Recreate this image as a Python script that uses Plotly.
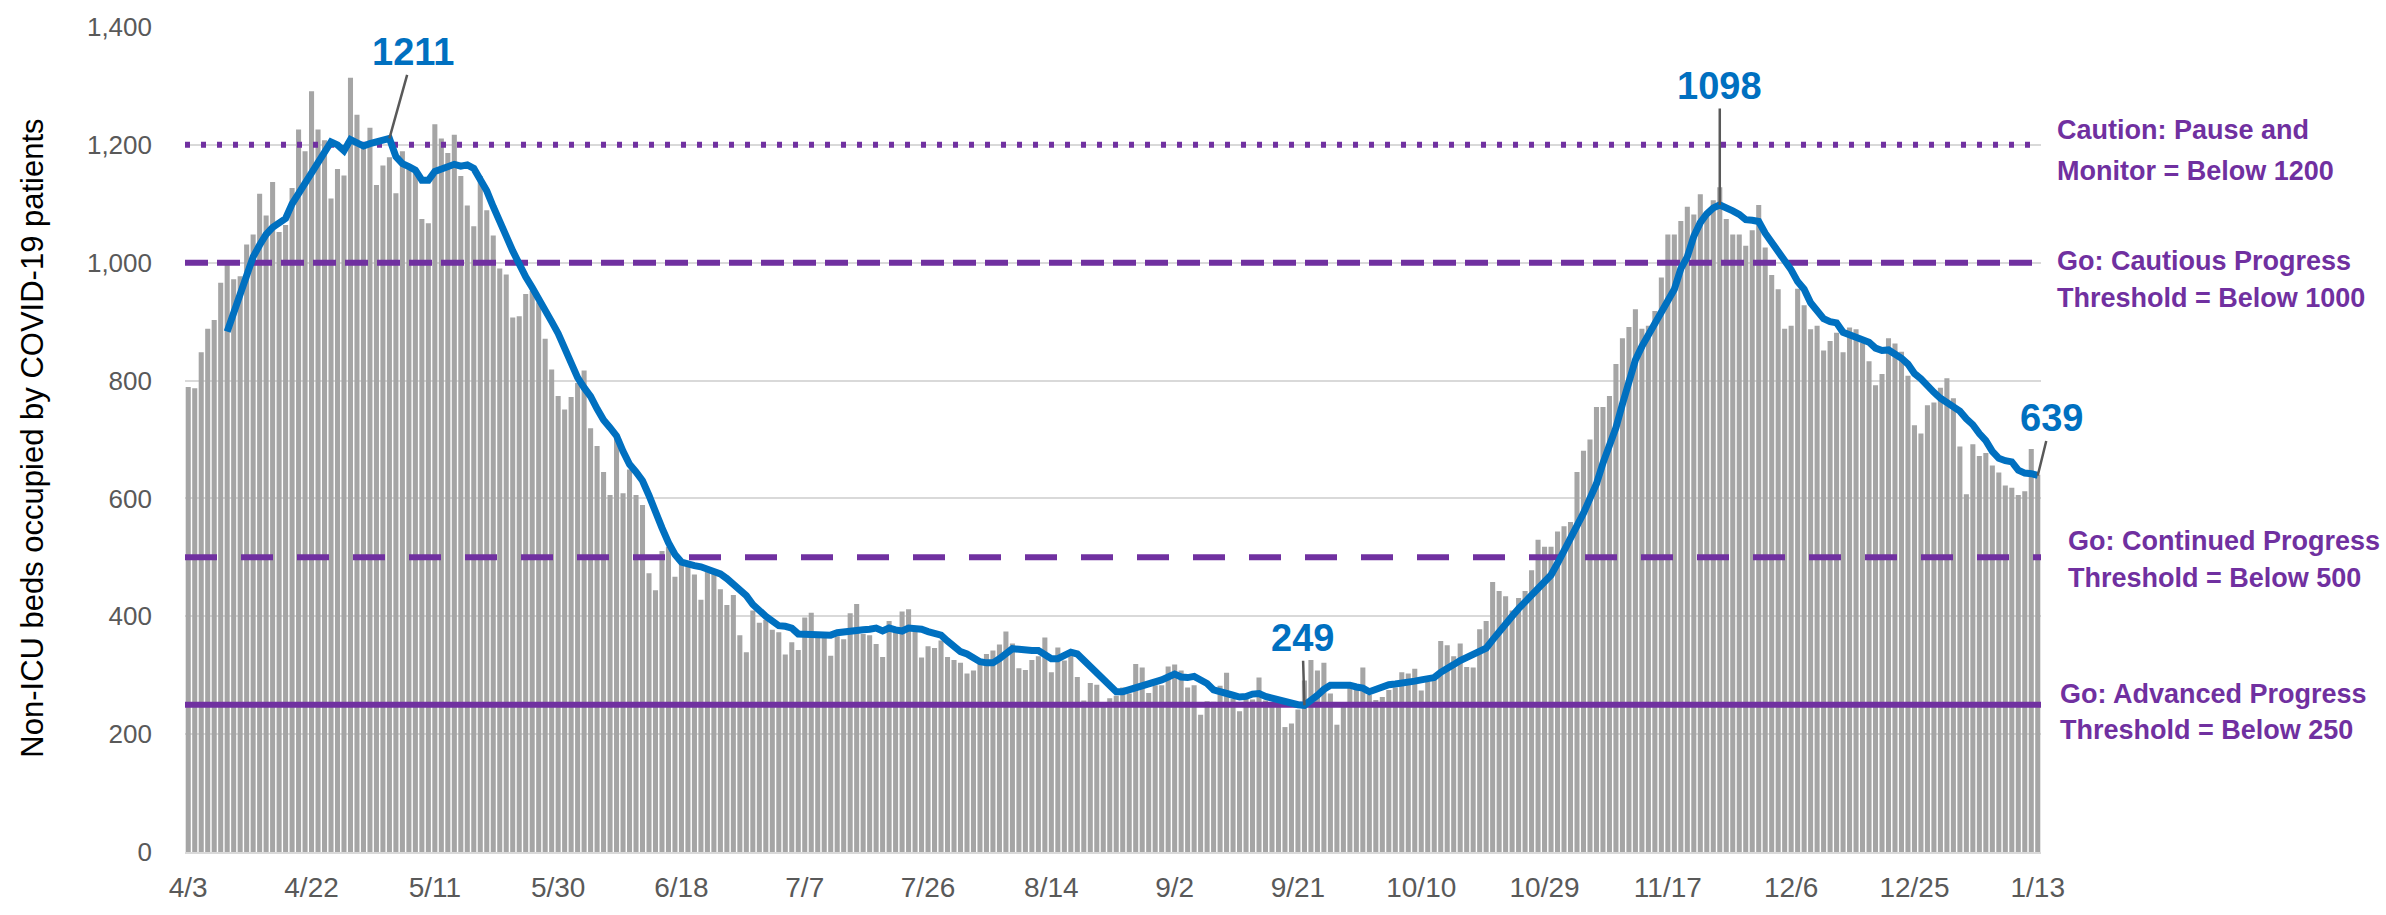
import pandas as pd
import plotly.graph_objects as go

# ---------------- data ----------------
start_date = "2020-04-03"
n_days = 286
days = pd.date_range(start_date, periods=n_days, freq="D")

beds = [
    789, 787, 848, 888, 903, 966, 1000, 972, 977, 1031,
    1048, 1117, 1080, 1137, 1052, 1064, 1127, 1226, 1189, 1291,
    1226, 1208, 1109, 1159, 1148, 1314, 1251, 1205, 1229, 1132,
    1165, 1179, 1118, 1189, 1163, 1156, 1074, 1067, 1235, 1211,
    1186, 1217, 1147, 1097, 1062, 1147, 1089, 1046, 990, 980,
    907, 909, 947, 952, 933, 871, 819, 774, 751, 772,
    796, 817, 719, 689, 645, 606, 703, 609, 649, 606,
    589, 473, 444, 511, 518, 467, 495, 486, 471, 428,
    478, 476, 446, 419, 436, 368, 339, 410, 389, 394,
    377, 373, 335, 356, 343, 398, 406, 364, 363, 333,
    366, 361, 405, 421, 370, 368, 353, 331, 392, 380,
    408, 412, 377, 330, 349, 346, 359, 331, 326, 321,
    303, 308, 319, 336, 342, 352, 374, 354, 312, 309,
    326, 332, 364, 305, 347, 325, 333, 297, 257, 287,
    284, 251, 261, 265, 279, 269, 319, 313, 270, 283,
    283, 315, 318, 308, 279, 283, 233, 256, 255, 282,
    304, 260, 239, 261, 259, 296, 257, 253, 257, 212,
    218, 242, 291, 326, 308, 321, 269, 216, 250, 279,
    275, 313, 267, 258, 263, 275, 279, 305, 303, 311,
    274, 289, 293, 358, 351, 332, 354, 314, 313, 378,
    392, 458, 443, 434, 410, 431, 443, 478, 530, 518,
    518, 544, 553, 560, 645, 681, 700, 755, 755, 774,
    828, 872, 891, 921, 888, 893, 918, 975, 1048, 1048,
    1071, 1095, 1082, 1116, 1083, 1106, 1128, 1074, 1048, 1048,
    1029, 1055, 1098, 1026, 979, 955, 888, 893, 956, 928,
    887, 893, 851, 867, 881, 848, 890, 887, 864, 833,
    792, 811, 872, 863, 849, 808, 724, 710, 758, 763,
    788, 804, 770, 688, 607, 692, 672, 677, 656, 644,
    622, 618, 606, 612, 684, 640,
]

# 7-day average line as drawn (begins on the 7th day, 4/9)
avg_start_index = 6
avg7 = [
    883, 915, 955, 985, 1010, 1030, 1048, 1060, 1068, 1075,
    1100, 1118, 1135, 1152, 1170, 1190, 1205, 1200, 1190, 1209,
    1205, 1198, 1202, 1205, 1207, 1211, 1180, 1168, 1163, 1157,
    1140, 1140, 1155, 1160, 1163, 1167, 1164, 1166, 1160, 1140,
    1122, 1095, 1073, 1045, 1020, 995, 976, 958, 940, 922,
    900, 880, 855, 828, 805, 788, 773, 752, 733, 720,
    706, 680, 658, 645, 630, 605, 575, 550, 525, 505,
    492, 488, 486, 484, 480, 478, 472, 464, 455, 446,
    435, 420, 408, 400, 392, 384, 383, 380, 370, 370,
    370, 369, 368, 368, 372, 374, 375, 376, 377, 378,
    380, 375, 380, 377, 375, 380, 379, 378, 374, 370,
    368, 358, 347, 340, 336, 330, 323, 321, 321, 328,
    336, 345, 344, 342, 342, 342, 336, 328, 328, 335,
    339, 336, 325, 314, 306, 295, 283, 272, 272, 275,
    279, 283, 287, 289, 292, 297, 302, 297, 296, 298,
    292, 286, 275, 271, 269, 266, 263, 264, 268, 269,
    264, 261, 258, 253, 250, 250, 249, 256, 266, 276,
    283, 283, 283, 283, 280, 278, 272, 276, 282, 284,
    285, 286, 288, 290, 292, 294, 296, 305, 313, 318,
    325, 330, 334, 340, 346, 360, 375, 388, 400, 413,
    425, 437, 450, 460, 470, 490, 510, 530, 552, 575,
    600, 625, 660, 690, 720, 760, 800, 835, 858, 877,
    895, 915, 938, 955, 990, 1010, 1045, 1068, 1083, 1093,
    1098, 1094, 1088, 1082, 1073, 1072, 1070, 1050, 1035, 1022,
    1005, 988, 968, 955, 932, 918, 905, 900, 898, 882,
    878, 876, 870, 865, 855, 851, 852, 846, 838, 828,
    812, 803, 790, 780, 770, 762, 755, 748, 735, 725,
    710, 698, 680, 668, 664, 662, 648, 643, 642, 639,
]

tick_labels = ["4/3", "4/22", "5/11", "5/30", "6/18", "7/7", "7/26", "8/14",
               "9/2", "9/21", "10/10", "10/29", "11/17", "12/6", "12/25", "1/13"]
tick_step_days = 19

thresholds = [1200, 1000, 500, 250]
threshold_dash = ["5px,11px", "23px,9px", "32px,24px", "solid"]
threshold_lines = [
    ("Caution: Pause and", "Monitor = Below 1200"),
    ("Go: Cautious Progress", "Threshold = Below 1000"),
    ("Go: Continued Progress", "Threshold = Below 500"),
    ("Go: Advanced Progress", "Threshold = Below 250"),
]
threshold_text_shift = [(15, -26), (2, -35), (16, -21), (11, -25)]
threshold_text_x = [1.0075, 1.0075, 1.0135, 1.0092]

callout_index = [31, 236, 172, 285]
callout_value = [1211, 1098, 249, 639]
callout_offset = [(24, -86), (0, -119), (-2, -67), (14, -57)]

# ---------------- figure ----------------
PURPLE = "#7030A0"
BLUE = "#0070C0"
GRAY_TXT = "#595959"
FONT = "Liberation Sans, Arial, sans-serif"

avg_days = days[avg_start_index:avg_start_index + len(avg7)]
x_lo = days[0] - pd.Timedelta(hours=12)
x_hi = days[-1] + pd.Timedelta(hours=12)

fig = go.Figure()
fig.add_trace(go.Bar(x=days, y=beds, marker=dict(color="#A5A5A5", line=dict(width=0)),
                     showlegend=False, hoverinfo="x+y"))

for val, dash in zip(thresholds, threshold_dash):
    fig.add_trace(go.Scatter(x=[x_lo, x_hi], y=[val, val], mode="lines",
                             line=dict(color=PURPLE, width=6, dash=dash),
                             showlegend=False, hoverinfo="skip"))

fig.add_trace(go.Scatter(x=avg_days, y=avg7, mode="lines",
                         line=dict(color=BLUE, width=7), showlegend=False))

annotations = []
for (l1, l2), val, (s1, s2), xp in zip(threshold_lines, thresholds,
                                       threshold_text_shift, threshold_text_x):
    for txt, dy in ((l1, s1), (l2, s2)):
        annotations.append(dict(xref="paper", yref="y", x=xp, y=val, yshift=dy,
                                text=f"<b>{txt}</b>", showarrow=False,
                                xanchor="left", yanchor="middle", align="left",
                                font=dict(family=FONT, size=27, color=PURPLE)))

for idx, val, (ax, ay) in zip(callout_index, callout_value, callout_offset):
    annotations.append(dict(x=days[idx], y=val, xref="x", yref="y",
                            text=f"<b>{val}</b>", showarrow=True, arrowhead=0,
                            arrowwidth=2.5, arrowcolor=GRAY_TXT, ax=ax, ay=ay,
                            font=dict(family=FONT, size=38, color=BLUE)))

annotations.append(dict(xref="paper", yref="paper", x=-0.082, y=0.502,
                        text="Non-ICU beds occupied by COVID-19 patients",
                        textangle=-90, showarrow=False, xanchor="center", yanchor="middle",
                        font=dict(family=FONT, size=31, color="#000000")))

fig.update_layout(
    width=2386, height=915,
    margin=dict(l=185, r=345, t=22, b=56),
    paper_bgcolor="white", plot_bgcolor="white",
    bargap=0.22,
    annotations=annotations,
    showlegend=False,
)
fig.update_xaxes(
    range=[x_lo, x_hi],
    tickvals=list(days[::tick_step_days]),
    ticktext=tick_labels,
    ticks="", showgrid=False,
    showline=True, linecolor="#D9D9D9", linewidth=1.5,
    tickfont=dict(family=FONT, size=28, color=GRAY_TXT),
    ticklabelstandoff=10,
)
fig.update_yaxes(
    range=[0, 1400], dtick=200, tickformat=",d",
    showgrid=True, gridcolor="#D9D9D9", gridwidth=1.5,
    zeroline=False, ticks="",
    tickfont=dict(family=FONT, size=26, color=GRAY_TXT),
    ticklabelstandoff=32,
)

fig.write_html(
    "out.html",
    config={"displayModeBar": False},
    post_script="document.body.style.margin='0';document.body.style.overflow='hidden';",
)
